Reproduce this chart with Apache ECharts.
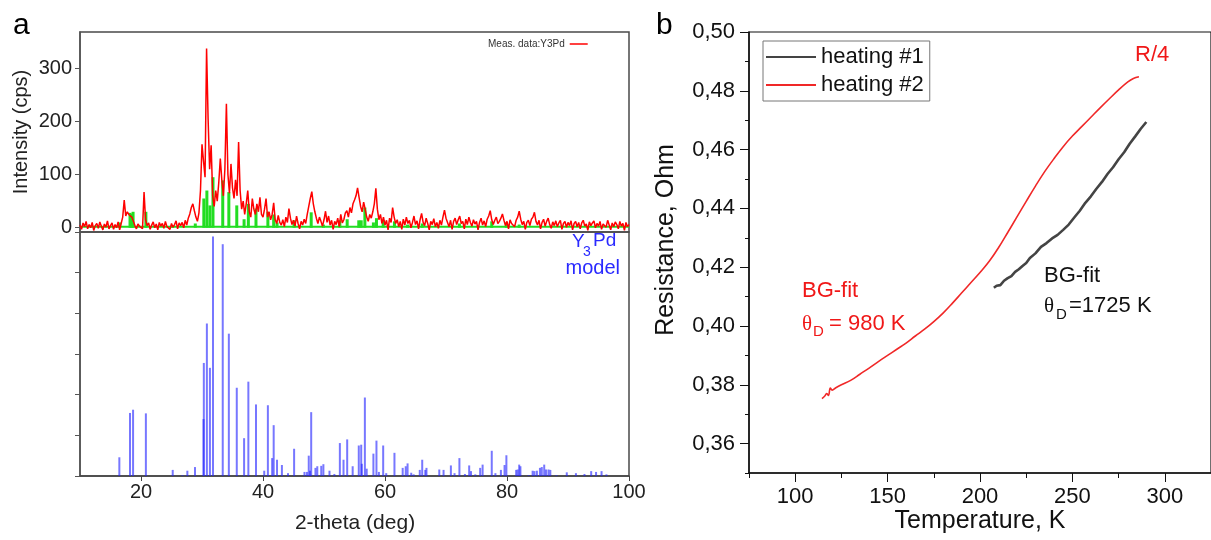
<!DOCTYPE html>
<html><head><meta charset="utf-8">
<script src="https://cdn.jsdelivr.net/npm/echarts@6/dist/echarts.min.js"></script>
<style>html,body{margin:0;padding:0;background:#fff}#c{width:1211px;height:540px}</style>
</head><body><div id="c"></div>
<script>
// ---------- Panel a: XRD ----------
const measStart = 10, measStep = 0.25;
const measIntensity = [
 5,-3,9,2,12,-2,6,0,10,-5,4,8,-1,11,3,-4,7,1,13,-2,
 4,9,-3,6,0,11,-4,8,20,52,22,30,25,28,20,12,4,-2,7,3,
 6,-2,67,15,4,9,-3,5,11,0,7,-4,10,3,8,-1,12,2,5,-3,
 8,1,6,13,-2,9,4,10,0,14,5,18,26,38,45,32,20,12,28,70,
 157,125,95,337,205,110,155,60,40,70,50,85,130,90,60,110,233,100,65,120,
 75,55,90,60,161,70,35,50,25,45,70,30,20,55,35,25,45,30,57,25,
 20,35,55,20,30,15,25,47,15,8,23,10,5,15,2,20,10,36,18,6,
 14,3,22,8,-2,12,5,16,8,25,40,55,68,45,30,18,8,20,12,3,
 15,31,10,22,5,14,-3,12,6,18,2,25,9,15,28,32,20,38,28,45,
 52,60,75,57,40,30,48,35,20,12,25,18,30,45,74,35,15,25,8,20,
 5,14,-4,18,10,38,20,8,15,2,12,-3,16,5,20,8,14,0,10,22,
 6,13,-2,15,27,10,4,18,8,-4,12,6,17,2,10,-1,14,5,20,33,
 18,10,2,14,-3,12,18,6,15,22,8,12,-2,16,6,20,10,3,15,7,
 12,-4,10,18,5,13,2,16,22,32,15,6,14,20,8,12,18,26,14,4,
 12,-2,15,8,10,2,14,20,31,16,6,12,-3,10,14,4,16,20,29,12,
 5,14,-2,10,16,3,12,18,6,-1,11,4,13,2,9,14,-3,8,12,1,
 10,4,13,-4,8,12,2,10,-2,9,14,3,7,-5,11,4,9,13,0,8,
 3,12,-3,7,10,1,14,5,-4,9,2,11,6,-2,12,3,8,-5,10,2,
 6
];
const calcBaseline = [[10, 2], [100, 2]];
const calcPos = [16.5,18.2,18.45,18.7,20.8,25.2,28.9,30.3,30.8,31.3,31.8,33.4,34.4,35.7,36.9,37.6,38.85,40.8,41.75,42.3,45.1,47.9,49.9,52.6,53.8,55.7,56.1,56.7,58.1,58.6,59.7,61.55,63.7,66.1,72.2,77.5,79.9,82.0];
const calcInt = [10,28,26,30,30,3,8,55,70,42,95,89,67,42,16,45,36,30,25,10,14,29,6,14,16,14,14,38,10,18,14,12,6,8,8,12,10,6];
const modelPos = [16.45,18.2,18.7,20.8,25.2,26.8,27.6,28.85,30.25,30.3,30.8,31.3,31.8,33.4,34.4,35.7,36.9,37.6,38.85,40.2,40.8,41.5,41.75,42.3,43.1,44.1,45.1,46.8,47.2,47.5,47.7,47.9,48.6,48.9,49.55,49.9,50.9,51.7,52.6,53.2,53.8,54.7,55.7,56.1,56.2,56.7,57.0,58.1,58.6,59.0,59.7,60.2,61.55,62.9,63.4,63.7,64.3,64.7,65.7,66.1,66.6,66.8,68.9,69.6,70.8,71.4,72.2,73.1,73.8,74.1,74.8,75.6,76.0,77.5,78.1,79.0,79.6,79.9,81.5,81.75,82.0,82.2,83.55,84.2,84.5,84.9,85.4,85.7,86.1,86.4,86.8,87.1,88.1,89.8,91.3,92.7,93.8,94.6,95.5,96.3];
const modelInt = [0.46,1.55,1.63,1.54,0.15,0.02,0.13,0.22,1.4,2.78,3.75,2.66,5.89,5.70,3.5,2.17,0.93,2.32,1.76,0.13,1.74,0.44,1.25,0.4,0.27,0.07,0.67,0.1,0.1,0.5,0.13,1.57,0.2,0.24,0.25,0.29,0.13,0.05,0.81,0.4,0.9,0.24,0.75,0.77,0.3,1.93,0.18,0.55,0.87,0.1,0.75,0.07,0.57,0.2,0.24,0.31,0.08,0.04,0.15,0.4,0.15,0.2,0.16,0.15,0.26,0.07,0.44,0.05,0.26,0.12,0.04,0.2,0.28,0.62,0.07,0.15,0.27,0.51,0.15,0.16,0.28,0.24,0.02,0.13,0.12,0.13,0.2,0.22,0.28,0.16,0.16,0.15,0.02,0.09,0.07,0.05,0.12,0.1,0.12,0.04];
const thetaTicks = [20, 40, 60, 80, 100];
const intensityTicks = [0, 100, 200, 300];

// ---------- Panel b: resistance ----------
const h1Temp = [207.5,209,211,213,215,217,219,221,223,225,227,230,233,236,239,242,245,248,251,254,257,260,263,266,269,272,275,278,281,284,287,290];
const h1Res  = [0.4130,0.4137,0.4139,0.4154,0.4163,0.4170,0.4184,0.4193,0.4204,0.4214,0.4231,0.4247,0.4269,0.4282,0.4298,0.4310,0.4327,0.4345,0.4369,0.4392,0.4419,0.4441,0.4467,0.4490,0.4517,0.4540,0.4567,0.4591,0.4620,0.4645,0.4671,0.4694];
const h2Temp = [114.5,116,117,118,119,120,122,125,130,135,140,145,150,155,160,165,170,175,180,185,190,195,200,205,210,215,220,225,230,235,240,245,250,255,260,265,270,275,280,283,286];
const h2Res  = [0.3753,0.3762,0.3770,0.3764,0.3789,0.3782,0.3790,0.3800,0.3815,0.3836,0.3857,0.3879,0.3900,0.3921,0.3942,0.3966,0.3989,0.4015,0.4044,0.4077,0.4112,0.4147,0.4182,0.4220,0.4266,0.4318,0.4371,0.4424,0.4476,0.4525,0.4569,0.4610,0.4646,0.4678,0.4710,0.4742,0.4773,0.4803,0.4830,0.4842,0.4848];
const tempTicks = [100, 150, 200, 250, 300];
const resTicks = [0.36, 0.38, 0.40, 0.42, 0.44, 0.46, 0.48, 0.50];

const FF = "'Liberation Sans', Arial, sans-serif";
const chart = echarts.init(document.getElementById('c'), null, {renderer: 'canvas'});

function txt(x, y, s, size, color, opts) {
  return Object.assign({
    type: 'text', x: x, y: y, silent: true,
    style: Object.assign({text: s, fontSize: size, fontFamily: FF, fill: color, align: 'left', verticalAlign: 'middle'}, (opts && opts.style) || {})
  }, (opts && opts.props) || {});
}

const option = {
  animation: false,
  backgroundColor: '#fff',
  grid: [
    {left: 80, top: 32, width: 549, height: 200, show: true, borderColor: '#4a4a4a', borderWidth: 1.5, backgroundColor: 'transparent'},
    {left: 80, top: 232, width: 549, height: 244, show: true, borderColor: '#4a4a4a', borderWidth: 1.5, backgroundColor: 'transparent'},
    {left: 749, top: 32, width: 468.5, height: 441, show: true, borderColor: '#111', borderWidth: 1.2, backgroundColor: 'transparent'}
  ],
  legend: [
    {data: ['Meas. data:Y3Pd'], left: 488, top: 39, align: 'right', icon: 'rect', itemWidth: 18, itemHeight: 1.5, itemGap: 6,
     textStyle: {fontSize: 10, fontFamily: FF, color: '#333'}, padding: 0},
    {data: ['heating #1', 'heating #2'], left: 763, top: 41, orient: 'vertical', icon: 'rect', itemWidth: 50, itemHeight: 2, itemGap: 6,
     borderColor: '#777', borderWidth: 1, padding: [5, 6, 5, 3],
     textStyle: {fontSize: 22, fontFamily: FF, color: '#111'}}
  ],
  xAxis: [
    {gridIndex: 0, type: 'value', min: 10, max: 100, show: false},
    {gridIndex: 1, type: 'value', min: 10, max: 100, position: 'bottom',
     axisLine: {lineStyle: {color: '#444', width: 1.5}},
     axisTick: {customValues: thetaTicks, length: 5, lineStyle: {color: '#444'}},
     axisLabel: {customValues: thetaTicks, fontSize: 20, fontFamily: FF, color: '#222', margin: 6},
     splitLine: {show: false}},
    {gridIndex: 2, type: 'value', min: 75, max: 325, interval: 25, position: 'bottom',
     axisLine: {lineStyle: {color: '#111', width: 1.5}},
     axisTick: {length: 5, lineStyle: {color: '#111'}},
     axisLabel: {customValues: tempTicks, fontSize: 22, fontFamily: FF, color: '#111', margin: 13},
     splitLine: {show: false}},
    {gridIndex: 2, type: 'value', min: 75, max: 325, position: 'bottom',
     axisLine: {show: false},
     axisTick: {customValues: tempTicks, length: 9, lineStyle: {color: '#111'}},
     axisLabel: {show: false}, splitLine: {show: false}}
  ],
  yAxis: [
    {gridIndex: 0, type: 'value', min: -8, max: 368, position: 'left',
     axisLine: {show: true, lineStyle: {color: '#555', width: 1.5}},
     axisTick: {show: true, customValues: intensityTicks, length: 5, lineStyle: {color: '#555'}},
     axisLabel: {customValues: intensityTicks, fontSize: 20, fontFamily: FF, color: '#222', margin: 8},
     splitLine: {show: false}},
    {gridIndex: 1, type: 'value', min: 0, max: 6, interval: 1, position: 'left',
     axisLine: {show: true, lineStyle: {color: '#555', width: 1.5}},
     axisTick: {show: true, length: 5, lineStyle: {color: '#555'}},
     axisLabel: {show: false}, splitLine: {show: false}},
    {gridIndex: 2, type: 'value', min: 0.35, max: 0.50, interval: 0.01, position: 'left',
     axisLine: {show: true, lineStyle: {color: '#111', width: 1.5}},
     axisTick: {show: true, length: 4, lineStyle: {color: '#111'}},
     axisLabel: {customValues: resTicks, fontSize: 22, fontFamily: FF, color: '#111', margin: 14,
       formatter: v => v.toFixed(2).replace('.', ',')},
     splitLine: {show: false}},
    {gridIndex: 2, type: 'value', min: 0.35, max: 0.50, position: 'left',
     axisLine: {show: false},
     axisTick: {show: true, customValues: resTicks, length: 9, lineStyle: {color: '#111'}},
     axisLabel: {show: false}, splitLine: {show: false}}
  ],
  series: [
    {type: 'line', name: 'calc', xAxisIndex: 0, yAxisIndex: 0, data: calcBaseline, symbol: 'none',
     lineStyle: {color: '#22dd22', width: 2}, z: 1, silent: true},
    {type: 'bar', name: 'calcPeaks', xAxisIndex: 0, yAxisIndex: 0,
     data: calcPos.map((p, i) => [p, calcInt[i]]), barWidth: 3, barGap: '-100%',
     itemStyle: {color: '#22dd22'}, z: 2, silent: true},
    {type: 'line', name: 'Meas. data:Y3Pd', xAxisIndex: 0, yAxisIndex: 0,
     data: measIntensity.map((v, i) => [measStart + i * measStep, v]),
     symbol: 'none', showSymbol: false, lineStyle: {color: '#ff0000', width: 1.5}, itemStyle: {color: '#ff0000'}, z: 3, clip: true},
    {type: 'bar', name: 'model', xAxisIndex: 1, yAxisIndex: 1,
     data: modelPos.map((p, i) => [p, modelInt[i]]), barWidth: 2, barGap: '-100%',
     itemStyle: {color: 'rgba(35,35,255,0.62)'}, silent: true},
    {type: 'line', name: 'heating #1', xAxisIndex: 2, yAxisIndex: 2,
     data: h1Temp.map((t, i) => [t, h1Res[i]]), symbol: 'none',
     lineStyle: {color: '#444', width: 2.6}, itemStyle: {color: '#444'}},
    {type: 'line', name: 'heating #2', xAxisIndex: 2, yAxisIndex: 2,
     data: h2Temp.map((t, i) => [t, h2Res[i]]), symbol: 'none', smooth: 0.4,
     lineStyle: {color: '#f02828', width: 1.6}, itemStyle: {color: '#f02828'}}
  ],
  graphic: [
    txt(13, 26, 'a', 30, '#000'),
    txt(656, 26, 'b', 30, '#000'),
    txt(21, 132, 'Intensity (cps)', 20, '#222', {props: {rotation: Math.PI / 2}, style: {align: 'center'}}),
    txt(355, 523, '2-theta (deg)', 21, '#222', {style: {align: 'center'}}),
    txt(666, 240, 'Resistance, Ohm', 25, '#111', {props: {rotation: Math.PI / 2}, style: {align: 'center'}}),
    txt(980, 521, 'Temperature, K', 25, '#111', {style: {align: 'center'}}),
    txt(572, 242, 'Y', 19, '#2a2aff'),
    txt(583, 252, '3', 14, '#2a2aff'),
    txt(593, 241, 'Pd', 19, '#2a2aff'),
    txt(620, 268, 'model', 20, '#2a2aff', {style: {align: 'right'}}),
    txt(1135, 55, 'R/4', 22, '#f01818'),
    txt(802, 291, 'BG-fit', 22, '#f01818'),
    txt(802, 324, 'θ', 21, '#f01818', {style: {fontFamily: "'Liberation Serif', serif"}}),
    txt(813, 332, 'D', 15, '#f01818'),
    txt(829, 324, '= 980 K', 22, '#f01818'),
    txt(1044, 276, 'BG-fit', 22, '#111'),
    txt(1044, 306, 'θ', 21, '#111', {style: {fontFamily: "'Liberation Serif', serif"}}),
    txt(1056, 315, 'D', 15, '#111'),
    txt(1069, 306, '=1725 K', 22, '#111')
  ]
};
chart.setOption(option);
</script>
</body></html>
